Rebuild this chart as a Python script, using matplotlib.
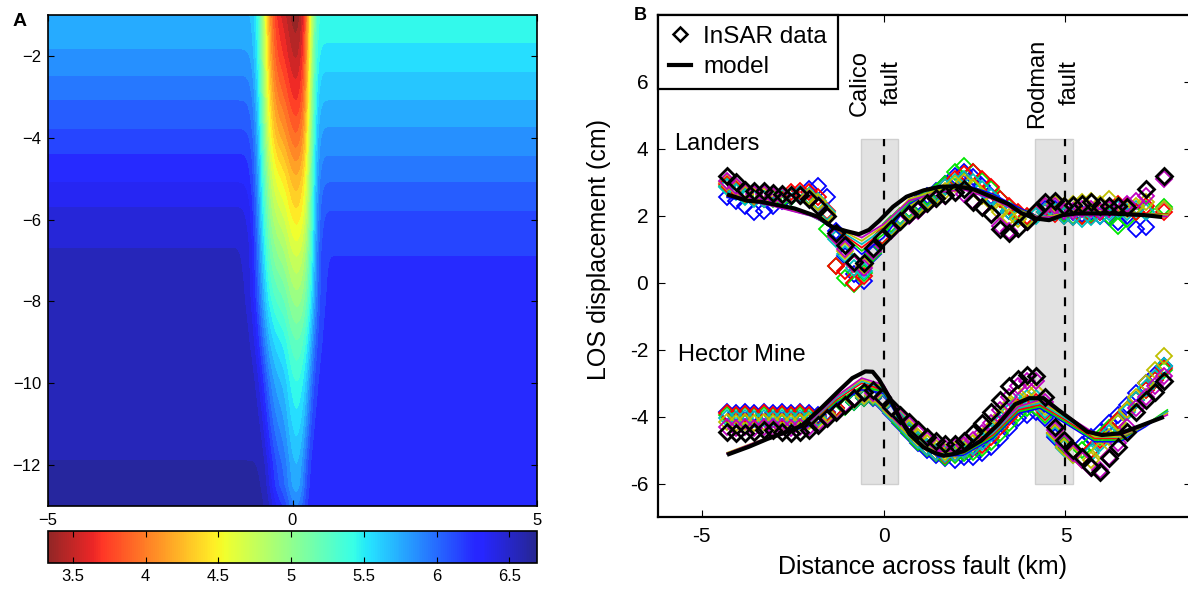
import numpy as np
import matplotlib.pyplot as plt
from matplotlib.colors import Normalize, ListedColormap
from matplotlib.cm import ScalarMappable
from matplotlib.lines import Line2D
from matplotlib.patches import Rectangle

plt.rcParams['font.family'] = ['Liberation Sans', 'DejaVu Sans']

# ---------------- panel A : layered velocity model with low-velocity zone ----------------
depth_left = [-1, -1.85, -2.5, -3.1, -3.8, -4.4, -5.1, -5.7, -6.7, -11.9, -13]
vel_left = [5.72, 5.8, 5.9, 6.0, 6.1, 6.2, 6.3, 6.4, 6.5, 6.6, 6.62]
depth_right = [-1, -1.7, -2.4, -3.1, -3.75, -4.45, -5.1, -5.8, -6.9, -13]
vel_right = [5.43, 5.5, 5.6, 5.7, 5.8, 5.9, 6.0, 6.1, 6.2, 6.26]
depth_lvz = [-1, -2, -3, -4, -5, -6, -7, -8, -9, -10, -11, -12, -12.5, -13]
vel_lvz = [3.45, 3.6, 3.8, 4.05, 4.35, 4.6, 4.85, 5.1, 5.35, 5.55, 5.7, 5.85, 5.9, 6.05]
halfwidth_lvz = [0.55, 0.56, 0.57, 0.58, 0.6, 0.62, 0.63, 0.63, 0.6, 0.55, 0.5, 0.44, 0.42, 0.4]
cbar_ticks = [3.5, 4, 4.5, 5, 5.5, 6, 6.5]

# ---------------- panel B : InSAR profiles ----------------
x_data = [-4.3, -4.05, -3.8, -3.55, -3.3, -3.05, -2.8, -2.55, -2.3, -2.05, -1.8, -1.55, -1.3,
          -1.05, -0.8, -0.55, -0.3, -0.05, 0.2, 0.45, 0.7, 0.95, 1.2, 1.45, 1.7, 1.95, 2.2,
          2.45, 2.7, 2.95, 3.2, 3.45, 3.7, 3.95, 4.2, 4.45, 4.7, 4.95, 5.2, 5.45, 5.7, 5.95,
          6.2, 6.45, 6.7, 6.95, 7.2, 7.45, 7.7]
nan = np.nan
landers = {
    'b': [2.55, 2.45, 2.3, 2.12, 2.15, 2.3, 2.45, 2.55, 2.65, 2.8, 2.9, 2.55, 1.55, 0.8, 0.25, 0.05, 0.85,
          1.3, 1.65, 1.95, 2.2, 2.4, 2.6, 2.75, 2.95, 3.2, 3.3, 3.15, 2.9, 2.6, 2.3, 2.15, 2.0, 1.95, 2.05,
          2.2, 2.2, 2.1, 2.1, 2.05, 2.1, 2.0, 1.95, 1.8, 2.0, 1.6, 1.68, nan, 2.2],
    '#00e600': [2.9, 2.75, 2.6, 2.55, 2.5, 2.5, 2.5, 2.55, 2.6, 2.6, 2.4, 1.6, 0.5, 0.15, -0.05, 0.3, 0.9,
                1.4, 1.75, 2.0, 2.2, 2.35, 2.55, 2.7, 2.95, 3.3, 3.5, 3.3, 3.05, 2.8, 2.5, 2.25, 2.05, 1.95,
                2.05, 2.1, 2.1, 2.05, 2.0, 2.0, 2.05, 2.1, 2.0, 1.7, 1.9, 2.1, 2.2, nan, 2.25],
    'r': [2.95, 2.8, 2.65, 2.55, 2.5, 2.55, 2.6, 2.7, 2.75, 2.7, 2.55, 2.15, 0.5, 0.35, 0.0, 0.2, 0.95,
          1.4, 1.7, 1.95, 2.15, 2.3, 2.5, 2.65, 2.85, 3.1, 3.25, 3.3, 3.1, 2.85, 2.5, 2.3, 2.1, 2.0, 2.05,
          2.1, 2.05, 2.0, 1.95, 2.0, 2.0, 2.1, 2.2, 2.35, 2.3, 2.1, 2.3, nan, 2.1],
    'c': [2.85, 2.7, 2.55, 2.5, 2.5, 2.55, 2.55, 2.6, 2.65, 2.6, 2.45, 2.1, 1.3, 0.85, 0.45, 0.35, 0.95,
          1.35, 1.7, 1.95, 2.15, 2.3, 2.5, 2.65, 2.85, 3.0, 3.1, 3.0, 2.8, 2.55, 2.3, 2.15, 2.0, 1.9, 2.0,
          2.1, 2.1, 2.0, 1.95, 1.9, 1.95, 2.0, 2.1, 2.2, 2.1, 2.2, 2.1, nan, 2.2],
    'y': [3.0, 2.85, 2.65, 2.6, 2.6, 2.55, 2.6, 2.6, 2.6, 2.55, 2.4, 2.05, 1.4, 0.95, 0.55, 0.5, 1.0,
          1.35, 1.65, 1.9, 2.1, 2.25, 2.45, 2.6, 2.75, 2.95, 3.0, 2.85, 2.6, 2.4, 2.1, 1.95, 1.9, 1.9, 2.1,
          2.3, 2.35, 2.3, 2.35, 2.4, 2.45, 2.35, 2.5, 2.3, 2.2, 2.3, 2.4, nan, 2.2],
    'm': [3.05, 2.9, 2.7, 2.65, 2.65, 2.6, 2.6, 2.6, 2.58, 2.5, 2.3, 1.95, 1.4, 1.0, 0.55, 0.45, 0.95,
          1.3, 1.55, 1.8, 2.0, 2.15, 2.35, 2.5, 2.6, 2.7, 2.65, 2.45, 2.25, 2.05, 1.7, 1.55, 1.6, 1.8, 2.1,
          2.3, 2.3, 2.15, 2.15, 2.2, 2.2, 2.15, 2.2, 2.25, 2.35, 2.45, 2.6, nan, 3.1],
    'k': [3.2, 3.0, 2.78, 2.75, 2.75, 2.67, 2.65, 2.62, 2.62, 2.5, 2.3, 2.0, 1.5, 1.13, 0.62, 0.58, 1.05,
          1.35, 1.6, 1.85, 2.05, 2.2, 2.38, 2.52, 2.62, 2.72, 2.8, 2.42, 2.25, 2.05, 1.6, 1.5, 1.65, 1.85,
          2.15, 2.4, 2.45, 2.3, 2.32, 2.35, 2.4, 2.3, 2.3, 2.3, 2.25, nan, 2.8, nan, 3.2],
}
hector = {
    'b': [-3.85, -3.9, -3.85, -3.9, -3.85, -3.9, -3.85, -3.9, -3.85, -3.9, -3.95, -3.85, -3.75, -3.65,
          -3.55, -3.45, -3.45, -3.6, -3.9, -4.2, -4.5, -4.8, -5.0, -5.15, -5.25, -5.3, -5.2, -5.2, -5.1,
          -4.9, -4.65, -4.35, -4.05, -3.95, -3.85, -4.05, -4.6, -4.9, -5.0, -4.85, -4.6, -4.45, -4.2,
          -3.95, -3.65, -3.3, -3.0, -2.75, -2.5],
    '#00e600': [-3.95, -3.98, -3.95, -3.98, -3.95, -3.98, -3.95, -3.98, -3.95, -3.98, -4.0, -3.9, -3.8,
                -3.7, -3.55, -3.45, -3.4, -3.55, -3.85, -4.15, -4.45, -4.75, -4.95, -5.1, -5.2, -5.15,
                -5.1, -5.05, -4.95, -4.75, -4.5, -4.2, -3.9, -3.75, -3.7, -3.95, -4.5, -4.85, -5.0, -5.0,
                -4.8, -4.6, -4.35, -4.1, -3.8, -3.5, -3.2, -2.9, -2.6],
    'r': [-3.9, -3.95, -3.92, -3.95, -3.9, -3.95, -3.92, -3.95, -3.9, -3.95, -4.0, -3.88, -3.75, -3.65,
          -3.5, -3.4, -3.38, -3.55, -3.85, -4.1, -4.4, -4.7, -4.9, -5.05, -5.15, -5.1, -5.0, -4.95, -4.85,
          -4.6, -4.3, -4.0, -3.7, -3.6, -3.55, -3.85, -4.5, -4.9, -5.1, -5.2, -5.0, -4.7, -4.4, -4.1, -3.8,
          -3.5, -3.2, -2.9, -2.55],
    'c': [-4.05, -4.08, -4.05, -4.08, -4.05, -4.08, -4.05, -4.08, -4.05, -4.08, -4.05, -3.95, -3.82,
          -3.68, -3.52, -3.42, -3.38, -3.55, -3.85, -4.1, -4.4, -4.7, -4.9, -5.05, -5.12, -5.1, -5.0,
          -4.9, -4.75, -4.5, -4.2, -3.85, -3.55, -3.45, -3.45, -3.8, -4.55, -4.95, -5.15, -5.25, -5.1,
          -4.8, -4.5, -4.2, -3.85, -3.5, -3.15, -2.85, -2.5],
    'y': [-4.15, -4.18, -4.15, -4.18, -4.15, -4.18, -4.15, -4.18, -4.15, -4.12, -4.1, -3.95, -3.8,
          -3.65, -3.5, -3.38, -3.35, -3.5, -3.8, -4.05, -4.35, -4.6, -4.8, -4.95, -5.05, -5.0, -4.9,
          -4.8, -4.6, -4.35, -4.0, -3.65, -3.35, -3.25, -3.25, -3.7, -4.5, -4.9, -5.15, -5.3, -5.3,
          -5.0, -4.6, -4.2, -3.8, -3.4, -3.0, -2.6, -2.2],
    'm': [-4.3, -4.35, -4.32, -4.35, -4.3, -4.3, -4.32, -4.35, -4.3, -4.3, -4.2, -4.0, -3.82, -3.62,
          -3.45, -3.3, -3.28, -3.45, -3.75, -4.0, -4.25, -4.5, -4.7, -4.85, -4.95, -4.92, -4.85, -4.7,
          -4.5, -4.2, -3.8, -3.4, -3.1, -2.95, -2.95, -3.55, -4.4, -4.8, -5.1, -5.3, -5.55, -5.6, -5.2,
          -4.8, -4.3, -3.75, -3.4, -3.1, -2.8],
    'k': [-4.45, -4.5, -4.5, -4.45, -4.4, -4.4, -4.45, -4.5, -4.45, -4.4, -4.25, -4.05, -3.85, -3.65,
          -3.45, -3.25, -3.2, -3.4, -3.7, -3.95, -4.15, -4.4, -4.6, -4.72, -4.82, -4.82, -4.72, -4.5,
          -4.2, -3.85, -3.5, -3.1, -2.88, -2.75, -2.8, -3.4, -4.3, -4.7, -5.0, -5.2, -5.5, -5.65, -5.25,
          -4.9, -4.45, -3.85, -3.5, -3.25, -2.95],
}

# individual model fits (thin coloured lines)
x_fit = [-4.3, -3.0, -2.0, -1.3, -0.6, 0.0, 0.7, 1.5, 2.2, 3.0, 3.7, 4.3, 5.0, 5.8, 6.5, 7.2, 7.8]
landers_fit = {
    'b': [2.55, 2.3, 2.05, 1.55, 0.85, 1.35, 2.35, 2.85, 2.95, 2.65, 2.25, 1.95, 2.05, 2.1, 2.1, 2.05, 2.0],
    '#00e600': [2.6, 2.32, 2.05, 1.6, 0.95, 1.45, 2.4, 2.85, 2.92, 2.6, 2.2, 1.95, 2.05, 2.1, 2.1, 2.05, 2.05],
    'r': [2.6, 2.3, 2.02, 1.6, 1.05, 1.55, 2.45, 2.8, 2.9, 2.6, 2.2, 1.92, 2.05, 2.08, 2.1, 2.05, 2.05],
    'c': [2.6, 2.3, 2.0, 1.62, 1.15, 1.6, 2.45, 2.8, 2.88, 2.58, 2.18, 1.92, 2.05, 2.08, 2.08, 2.05, 2.02],
    'y': [2.62, 2.32, 2.02, 1.65, 1.25, 1.7, 2.5, 2.78, 2.85, 2.55, 2.15, 1.95, 2.07, 2.1, 2.1, 2.05, 2.02],
    'm': [2.6, 2.28, 2.0, 1.65, 1.35, 1.75, 2.45, 2.7, 2.78, 2.5, 2.12, 1.95, 2.0, 2.02, 2.02, 2.0, 1.98],
}
hector_fit = {
    'b': [-5.1, -4.6, -4.25, -3.6, -3.2, -3.3, -4.55, -5.2, -5.15, -4.65, -3.9, -3.75, -4.2, -4.75, -4.75, -4.3, -3.85],
    '#00e600': [-5.1, -4.58, -4.2, -3.55, -3.1, -3.25, -4.5, -5.15, -5.1, -4.6, -3.85, -3.7, -4.15, -4.7, -4.7, -4.25, -3.8],
    'r': [-5.1, -4.58, -4.18, -3.5, -3.0, -3.2, -4.5, -5.12, -5.08, -4.55, -3.8, -3.65, -4.1, -4.65, -4.65, -4.25, -3.85],
    'c': [-5.1, -4.56, -4.15, -3.45, -2.95, -3.15, -4.48, -5.1, -5.05, -4.5, -3.75, -3.6, -4.05, -4.6, -4.62, -4.25, -3.85],
    'y': [-5.08, -4.55, -4.12, -3.4, -2.9, -3.1, -4.45, -5.08, -5.02, -4.45, -3.7, -3.55, -4.0, -4.6, -4.6, -4.25, -3.9],
    'm': [-5.1, -4.55, -4.12, -3.4, -2.85, -3.05, -4.4, -5.05, -5.0, -4.45, -3.7, -3.5, -3.95, -4.5, -4.55, -4.25, -3.95],
}

# best model (thick black)
landers_model_x = [-4.25, -3.75, -3.38, -2.92, -2.45, -1.8, -1.42, -1.05, -0.68, -0.4, -0.12, 0.26, 0.63,
                   1.1, 1.56, 2.03, 2.5, 2.96, 3.43, 3.8, 4.18, 4.55, 4.92, 5.3, 6.23, 7.17, 7.6]
landers_model_y = [2.62, 2.45, 2.42, 2.32, 2.22, 1.97, 1.67, 1.55, 1.45, 1.58, 1.85, 2.27, 2.57,
                   2.76, 2.87, 2.88, 2.78, 2.57, 2.35, 2.07, 1.92, 1.87, 2.02, 2.07, 2.07, 2.02, 1.97]
hector_model_x = [-4.25, -3.7, -3.2, -2.7, -2.26, -1.7, -1.24, -0.86, -0.5, -0.3, -0.12, 0.16, 0.44, 0.72,
                  1.1, 1.4, 1.66, 2.0, 2.22, 2.68, 3.15, 3.62, 4.0, 4.4, 4.8, 5.2, 5.6, 6.0, 6.5, 7.05, 7.65]
hector_model_y = [-5.12, -4.9, -4.67, -4.47, -4.28, -3.73, -3.24, -2.85, -2.65, -2.66, -2.9, -3.43, -4.03,
                  -4.53, -4.92, -5.08, -5.17, -5.1, -5.02, -4.72, -4.23, -3.63, -3.45, -3.45, -3.8, -4.12,
                  -4.45, -4.55, -4.5, -4.28, -4.03]

fault_x = [0, 5]
fault_zone = [(-0.62, 0.4), (4.15, 5.2)]
zone_y = (-6, 4.28)

W, H = 1188, 589
fig = plt.figure(figsize=(W / 100, H / 100), dpi=100)

# jet reversed, a little washed out like the printed figure
jet = plt.get_cmap('jet_r')(np.linspace(0, 1, 256))
jet[:, :3] = 0.15 + 0.85 * jet[:, :3]
cmap = ListedColormap(jet)

# ---------------- panel A ----------------
axA = fig.add_axes([48 / W, 1 - 506 / H, 489 / W, 491 / H])
xg = np.linspace(-5, 5, 801)
zg = np.linspace(-13, -1, 481)
X, Z = np.meshgrid(xg, zg)
vl = np.interp(-Z, -np.array(depth_left), vel_left)
vr = np.interp(-Z, -np.array(depth_right), vel_right)
s = 0.5 * (1 + np.tanh((X + 0.1) / 0.12))
bg = vl * (1 - s) + vr * s
amp = 0.5 * (vl + vr) - np.interp(-Z, -np.array(depth_lvz), vel_lvz)
w = np.interp(-Z, -np.array(depth_lvz), halfwidth_lvz)
w = np.where(X < -0.05, w * 1.05, w * 0.8)
V = bg - amp * np.exp(-((X + 0.05) / w) ** 4)

norm = Normalize(3.33, 6.69)
axA.contourf(X, Z, V, levels=np.arange(3.3, 6.75, 0.1), cmap=cmap, norm=norm, extend='both')
axA.set_xlim(-5, 5)
axA.set_ylim(-13, -1)
axA.set_xticks([-5, 0, 5])
axA.set_yticks([-2, -4, -6, -8, -10, -12])
axA.tick_params(direction='in', top=True, right=True, labelsize=12, length=4, pad=5)
for sp in axA.spines.values():
    sp.set_linewidth(1.2)

cax = fig.add_axes([48 / W, 1 - 563 / H, 489 / W, 32 / H])
cb = fig.colorbar(ScalarMappable(norm=norm, cmap=cmap), cax=cax, orientation='horizontal')
cb.set_ticks(cbar_ticks)
cb.set_ticklabels(['3.5', '4', '4.5', '5', '5.5', '6', '6.5'])
cax.tick_params(direction='in', top=True, bottom=True, labelsize=12, length=4, pad=4)
cb.outline.set_linewidth(1.2)

fig.text(13 / W, 1 - 22 / H, 'A', fontsize=14, fontweight='bold', va='center')

# ---------------- panel B ----------------
axB = fig.add_axes([658 / W, 1 - 517 / H, 533 / W, 502 / H])
for x0, x1 in fault_zone:
    axB.add_patch(Rectangle((x0, zone_y[0]), x1 - x0, zone_y[1] - zone_y[0],
                            facecolor='#e2e2e2', edgecolor='#cfcfcf', lw=1, zorder=0))
for fx in fault_x:
    axB.plot([fx, fx], zone_y, color='k', ls=(0, (4, 4)), lw=1.6, zorder=1)

for data, fits in [(landers, landers_fit), (hector, hector_fit)]:
    for col, vals in data.items():
        if col == 'k':
            continue
        axB.plot(x_data, vals, 'D', mfc='none', mec=col, mew=1.3, ms=8, zorder=2)
    for col, vals in fits.items():
        axB.plot(x_fit, vals, color=col, lw=1.2, zorder=3)
    axB.plot(x_data, data['k'], 'D', mfc='none', mec='k', mew=2.0, ms=8, zorder=4)

axB.plot(landers_model_x, landers_model_y, color='k', lw=3, zorder=5)
axB.plot(hector_model_x, hector_model_y, color='k', lw=3, zorder=5)

axB.set_xlim(-6.2, 8.45)
axB.set_ylim(-7, 8)
axB.set_xticks([-5, 0, 5])
axB.set_xticklabels(['-5', '0', '5'])
axB.set_yticks([-6, -4, -2, 0, 2, 4, 6])
axB.set_yticklabels(['-6', '-4', '-2', '0', '2', '4', '6'])
axB.tick_params(direction='in', top=True, right=True, labelsize=15, length=5, pad=7)
for sp in axB.spines.values():
    sp.set_linewidth(1.6)

axB.text(-0.21, 5.97, 'Calico\nfault', rotation=90, ha='center', va='center',
         fontsize=17, multialignment='center', linespacing=1.6)
axB.text(4.67, 5.97, 'Rodman\nfault', rotation=90, ha='center', va='center',
         fontsize=17, multialignment='center', linespacing=1.6)
axB.text(-5.77, 4.15, 'Landers', fontsize=17, ha='left', va='center')
axB.text(-5.66, -2.15, 'Hector Mine', fontsize=17, ha='left', va='center')

handles = [Line2D([], [], marker='D', ls='none', mfc='none', mec='k', mew=1.8, ms=7),
           Line2D([], [], color='k', lw=3)]
leg = axB.legend(handles, ['InSAR data', 'model'], loc='upper left', bbox_to_anchor=(0, 1),
                 borderaxespad=0, fancybox=False, edgecolor='k', framealpha=1, fontsize=17.5,
                 handlelength=0.9, handletextpad=0.5, labelspacing=0.35, borderpad=0.45)
leg.get_frame().set_linewidth(1.6)

fig.text(599 / W, 1 - 250 / H, 'LOS displacement (cm)', rotation=90, ha='center', va='center', fontsize=18)
fig.text(923 / W, 1 - 567 / H, 'Distance across fault (km)', ha='center', va='center', fontsize=18)
fig.text(634 / W, 1 - 16 / H, 'B', fontsize=13, fontweight='bold', va='center')

fig.savefig('out.png', dpi=100)
